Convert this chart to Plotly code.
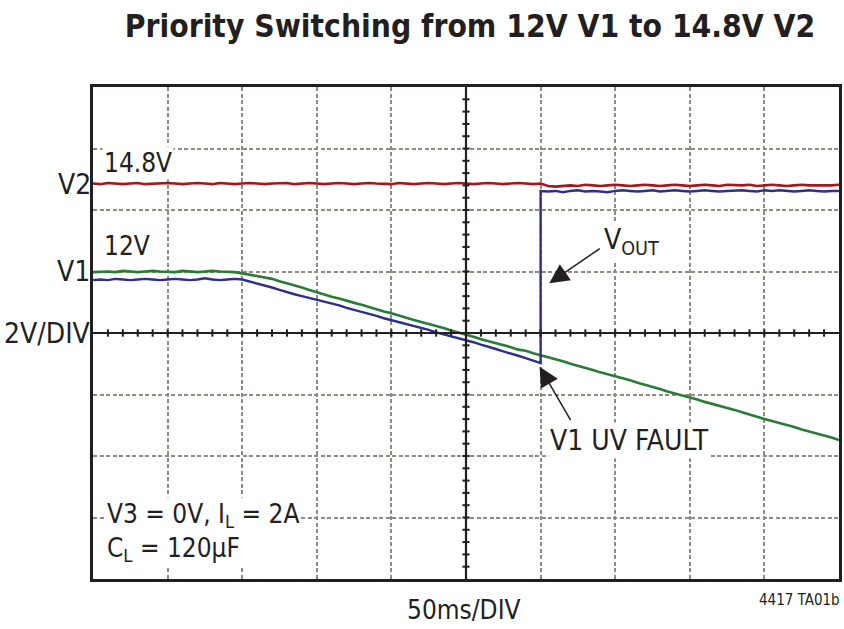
import plotly.graph_objects as go

# ---- data (time in ms, 50 ms/div; amplitude in divisions, 2 V/div) ----
time_ms = list(range(0, 505, 5))

v2_red = [
    2.43, 2.42, 2.44, 2.43, 2.42, 2.43, 2.44, 2.42, 2.43, 2.43,
    2.44, 2.43, 2.42, 2.43, 2.44, 2.43, 2.42, 2.44, 2.43, 2.42,
    2.43, 2.44, 2.43, 2.42, 2.43, 2.43, 2.44, 2.42, 2.43, 2.44,
    2.43, 2.42, 2.43, 2.44, 2.43, 2.42, 2.43, 2.44, 2.43, 2.43,
    2.42, 2.44, 2.43, 2.42, 2.43, 2.44, 2.43, 2.42, 2.43, 2.44,
    2.43, 2.42, 2.43, 2.44, 2.43, 2.42, 2.43, 2.44, 2.43, 2.42,
    2.43,
    2.39, 2.38, 2.39, 2.40, 2.39, 2.41, 2.40, 2.39, 2.40, 2.41,
    2.40, 2.39, 2.40, 2.41, 2.40, 2.39, 2.40, 2.41, 2.40, 2.39,
    2.40, 2.41, 2.40, 2.39, 2.41, 2.40, 2.40, 2.41, 2.39, 2.40,
    2.41, 2.40, 2.39, 2.40, 2.41, 2.40, 2.40, 2.39, 2.40, 2.41,
]

v1_green = [
    0.99, 1.00, 1.00, 0.99, 1.01, 1.00, 0.99, 1.00, 1.01, 1.00,
    1.00, 0.99, 1.01, 1.00, 0.99, 1.00, 1.01, 1.00, 1.00, 0.99,
    0.97, 0.95, 0.93, 0.90, 0.88, 0.84, 0.81, 0.78, 0.74, 0.70,
    0.66, 0.62, 0.59, 0.56, 0.52, 0.49, 0.46, 0.42, 0.39, 0.35,
    0.32, 0.28, 0.25, 0.21, 0.18, 0.15, 0.11, 0.08, 0.04, 0.01,
    -0.03, -0.06, -0.10, -0.13, -0.16, -0.20, -0.23, -0.27, -0.29, -0.33,
    -0.36, -0.40, -0.43, -0.46, -0.50, -0.53, -0.57, -0.60, -0.64, -0.67,
    -0.71, -0.74, -0.77, -0.81, -0.84, -0.88, -0.91, -0.95, -0.98, -1.01,
    -1.05, -1.08, -1.12, -1.15, -1.19, -1.22, -1.25, -1.29, -1.33, -1.36,
    -1.40, -1.43, -1.46, -1.50, -1.53, -1.57, -1.60, -1.64, -1.67, -1.70,
    -1.74,
]

switch_ms = 300
vout_before = [
    0.86, 0.87, 0.86, 0.88, 0.87, 0.86, 0.87, 0.88, 0.87, 0.86,
    0.87, 0.88, 0.87, 0.86, 0.87, 0.89, 0.87, 0.86, 0.87, 0.88,
    0.87, 0.84, 0.80, 0.77, 0.74, 0.70, 0.66, 0.63, 0.60, 0.57,
    0.55, 0.51, 0.48, 0.45, 0.41, 0.38, 0.34, 0.31, 0.28, 0.24,
    0.21, 0.18, 0.14, 0.11, 0.08, 0.05, 0.01, -0.02, -0.05, -0.09,
    -0.12, -0.15, -0.19, -0.22, -0.26, -0.30, -0.33, -0.37, -0.41, -0.45,
    -0.49,
]
vout_after = [
    2.31,
    2.30, 2.31, 2.29, 2.31, 2.32, 2.30, 2.31, 2.30, 2.29, 2.31,
    2.32, 2.31, 2.30, 2.31, 2.32, 2.30, 2.31, 2.32, 2.31, 2.30,
    2.31, 2.32, 2.31, 2.30, 2.31, 2.32, 2.32, 2.31, 2.30, 2.32,
    2.31, 2.32, 2.31, 2.30, 2.31, 2.32, 2.31, 2.30, 2.31, 2.31,
]
n_before = len(vout_before)
vout_time = time_ms[:n_before] + [switch_ms] + time_ms[n_before:]
vout_blue = vout_before + vout_after

x_range = [0, 500]
y_range = [-4, 4]
x_center = 250

TXT = "#231f20"
GRID = "#948a80"
RED = "#a0191f"
BLUE = "#2d2f8f"
GREEN = "#2a7b38"
FONT = ("Noto Sans ExtraCondensed, Noto Sans Condensed, Liberation Sans Narrow, "
        "DejaVu Sans Condensed, Arial Narrow, sans-serif")

fig = go.Figure()
fig.add_trace(go.Scatter(x=time_ms, y=v1_green, mode="lines",
                         line=dict(color=GREEN, width=2.6), hoverinfo="skip"))
fig.add_trace(go.Scatter(x=vout_time, y=vout_blue, mode="lines",
                         line=dict(color=BLUE, width=2.4), hoverinfo="skip"))
fig.add_trace(go.Scatter(x=time_ms, y=v2_red, mode="lines",
                         line=dict(color=RED, width=2.6), hoverinfo="skip"))

# centre cross-hair with minor tick marks
shapes = [
    dict(type="line", xref="x", yref="y", x0=x_range[0], x1=x_range[1], y0=0, y1=0,
         line=dict(color=TXT, width=2.2), layer="above"),
    dict(type="line", xref="x", yref="y", x0=x_center, x1=x_center, y0=y_range[0], y1=y_range[1],
         line=dict(color=TXT, width=2.2), layer="above"),
]
for t in range(x_range[0] + 10, x_range[1], 10):
    shapes.append(dict(type="line", xref="x", yref="y", x0=t, x1=t, y0=-0.06, y1=0.06,
                       line=dict(color=TXT, width=2), layer="above"))
for k in range(-19, 20):
    v = k * 0.2
    shapes.append(dict(type="line", xref="x", yref="y", x0=x_center - 2.4, x1=x_center + 2.4,
                       y0=v, y1=v, line=dict(color=TXT, width=2), layer="above"))

LS = 26
lab = dict(family=FONT, size=LS, color=TXT)
lab_big = dict(family=FONT, size=28, color=TXT)
annotations = [
    dict(text="V2", xref="paper", yref="y", x=-0.0, y=2.42, xanchor="right", yanchor="middle",
         showarrow=False, font=lab_big),
    dict(text="V1", xref="paper", yref="y", x=-0.002, y=1.0, xanchor="right", yanchor="middle",
         showarrow=False, font=lab_big),
    dict(text="2V/DIV", xref="paper", yref="y", x=-0.0, y=0.0, xanchor="right", yanchor="middle",
         showarrow=False, font=lab_big),
    dict(text="14.8V", xref="x", yref="y", x=6.0, y=2.76, xanchor="left", yanchor="middle",
         showarrow=False, font=lab, bgcolor="white", borderpad=1),
    dict(text="12V", xref="x", yref="y", x=6.0, y=1.42, xanchor="left", yanchor="middle",
         showarrow=False, font=lab, bgcolor="white", borderpad=1),
    dict(text="V<sub>OUT</sub>", xref="x", yref="y", x=341, y=1.48, xanchor="left", yanchor="middle",
         showarrow=False, font=lab_big, bgcolor="white", borderpad=1),
    dict(text="V1 UV FAULT", xref="x", yref="y", x=305, y=-1.75, xanchor="left", yanchor="middle",
         showarrow=False, font=lab_big, bgcolor="white", borderpad=1),
    dict(text="V3 = 0V, I<sub>L</sub> = 2A<br>C<sub>L</sub> = 120µF", xref="x", yref="y",
         x=8, y=-3.25, xanchor="left", yanchor="middle", align="left",
         showarrow=False, font=lab, bgcolor="white", borderpad=1),
    dict(text="50ms/DIV", xref="paper", yref="paper", x=0.497, y=-0.062, xanchor="center",
         yanchor="middle", showarrow=False, font=lab),
    dict(text="4417 TA01b", xref="paper", yref="paper", x=1.004, y=-0.043, xanchor="right",
         yanchor="middle", showarrow=False, font=dict(family=FONT, size=15, color=TXT)),
    # arrows
    dict(text="", xref="x", yref="y", axref="x", ayref="y", x=305.8, y=0.81, ax=340.7, ay=1.39,
         showarrow=True, arrowhead=2, arrowsize=2.6, arrowwidth=1.5, arrowcolor=TXT),
    dict(text="", xref="x", yref="y", axref="x", ayref="y", x=299.3, y=-0.55, ax=320.7, ay=-1.44,
         showarrow=True, arrowhead=2, arrowsize=2.6, arrowwidth=1.5, arrowcolor=TXT),
]

axis_common = dict(showticklabels=False, ticks="", showline=True, mirror=True,
                   linecolor=TXT, linewidth=2.5, showgrid=True, gridcolor=GRID,
                   gridwidth=1.5, griddash="4px,2.5px", zeroline=False, fixedrange=True)

fig.update_layout(
    width=844, height=629,
    margin=dict(l=93, r=2, t=87, b=50),
    paper_bgcolor="white", plot_bgcolor="white",
    showlegend=False,
    title=dict(text="<b>Priority Switching from 12V V1 to 14.8V V2</b>",
               x=470 / 844, xanchor="center", xref="container",
               y=1 - 26 / 629, yanchor="middle", yref="container",
               font=dict(family=FONT, size=31.5, color=TXT)),
    xaxis=dict(range=x_range, dtick=50, tick0=0, **axis_common),
    yaxis=dict(range=y_range, dtick=1, tick0=0, **axis_common),
    shapes=shapes,
    annotations=annotations,
)

fig.write_html("out.html", config={"displayModeBar": False},
               post_script="document.body.style.margin='0';")
